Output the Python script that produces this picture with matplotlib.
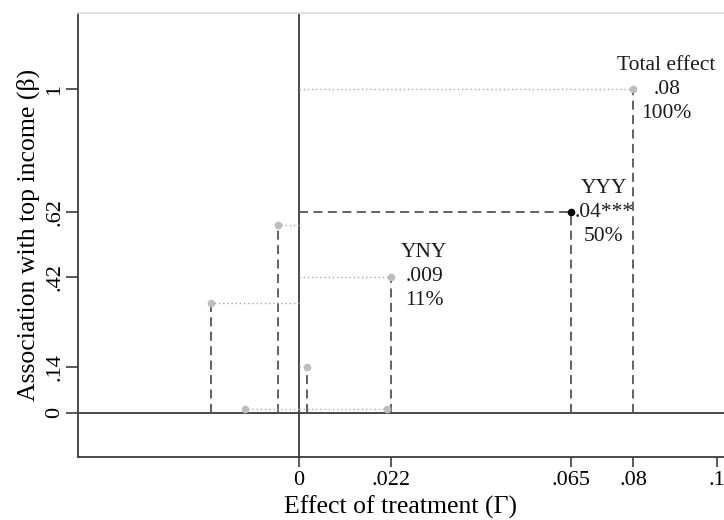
import matplotlib
matplotlib.use("Agg")
import matplotlib.pyplot as plt

plt.rcParams['font.family'] = ['Liberation Serif', 'DejaVu Serif']

# ---------------------------------
# Data
# ---------------------------------
gamma = [0.08, 0.065, 0.022, 0.021, 0.002, -0.005, -0.021, -0.013]   # effect of treatment
beta = [1.0, 0.62, 0.42, 0.01, 0.14, 0.58, 0.34, 0.01]              # association with top income
highlight = [False, True, False, False, False, False, False, False]
labels = ['Total effect\n.08\n100%', 'YYY\n.04***\n50%', 'YNY\n.009\n11%',
          None, None, None, None, None]

xticks = [0, 0.022, 0.065, 0.08, 0.1]
xticklabels = ['0', '.022', '.065', '.08', '.1']
yticks = [0, 0.14, 0.42, 0.62, 1]
yticklabels = ['0', '.14', '.42', '.62', '1']

dark = '#3c3c3c'
dash_c = '#555555'
dot_c = '#a8a8a8'
pt_c = '#bdbdbd'

fig = plt.figure(figsize=(7.24, 5.2), dpi=100)
ax = fig.add_axes([0.1077, 0.1217, 0.8923, 0.8539])

# reference lines through the origin
ax.axhline(0, color=dark, lw=1.3, zorder=2)
ax.axvline(0, color=dark, lw=1.3, zorder=2)

for g, b, hl, lab in zip(gamma, beta, highlight, labels):
    # vertical drop to zero
    ax.plot([g, g], [0, b], color=dash_c, lw=1.3, dashes=(5, 3), zorder=3)
    # horizontal line back to the axis
    if hl:
        ax.plot([0, g], [b, b], color=dash_c, lw=1.3, dashes=(5, 3), zorder=3)
    else:
        ax.plot([0, g], [b, b], color=dot_c, lw=1.0, dashes=(1, 2), zorder=3)
    ax.plot(g, b, 'o', ms=5.5, color='black' if hl else pt_c, mec='none', zorder=4)
    if lab:
        ax.annotate(lab, (g, b), xytext=(24, 0), textcoords='offset points',
                    ha='center', va='center', ma='center', fontsize=15.5,
                    linespacing=1.36, color='#1a1a1a')

ax.set_xlim(-0.0529, 0.1017)
ax.set_ylim(-0.136, 1.237)

ax.set_xticks(xticks)
ax.set_xticklabels(xticklabels)
ax.set_yticks(yticks)
ax.set_yticklabels(yticklabels, rotation=90, va='center')
ax.tick_params(axis='x', length=7, width=1.2, color=dark, labelsize=16, pad=3)
ax.tick_params(axis='y', length=9, width=1.2, color=dark, labelsize=16, pad=1)

ax.set_xlabel('Effect of treatment (Γ)', fontsize=18.5, labelpad=4)
ax.set_ylabel('Association with top income (β)', fontsize=18.5, labelpad=4)

for s in ['left', 'bottom']:
    ax.spines[s].set_color(dark)
    ax.spines[s].set_linewidth(1.3)
ax.spines['top'].set_color('#dddddd')
ax.spines['top'].set_linewidth(1.3)
ax.spines['right'].set_visible(False)

plt.savefig('out.png', dpi=100)
